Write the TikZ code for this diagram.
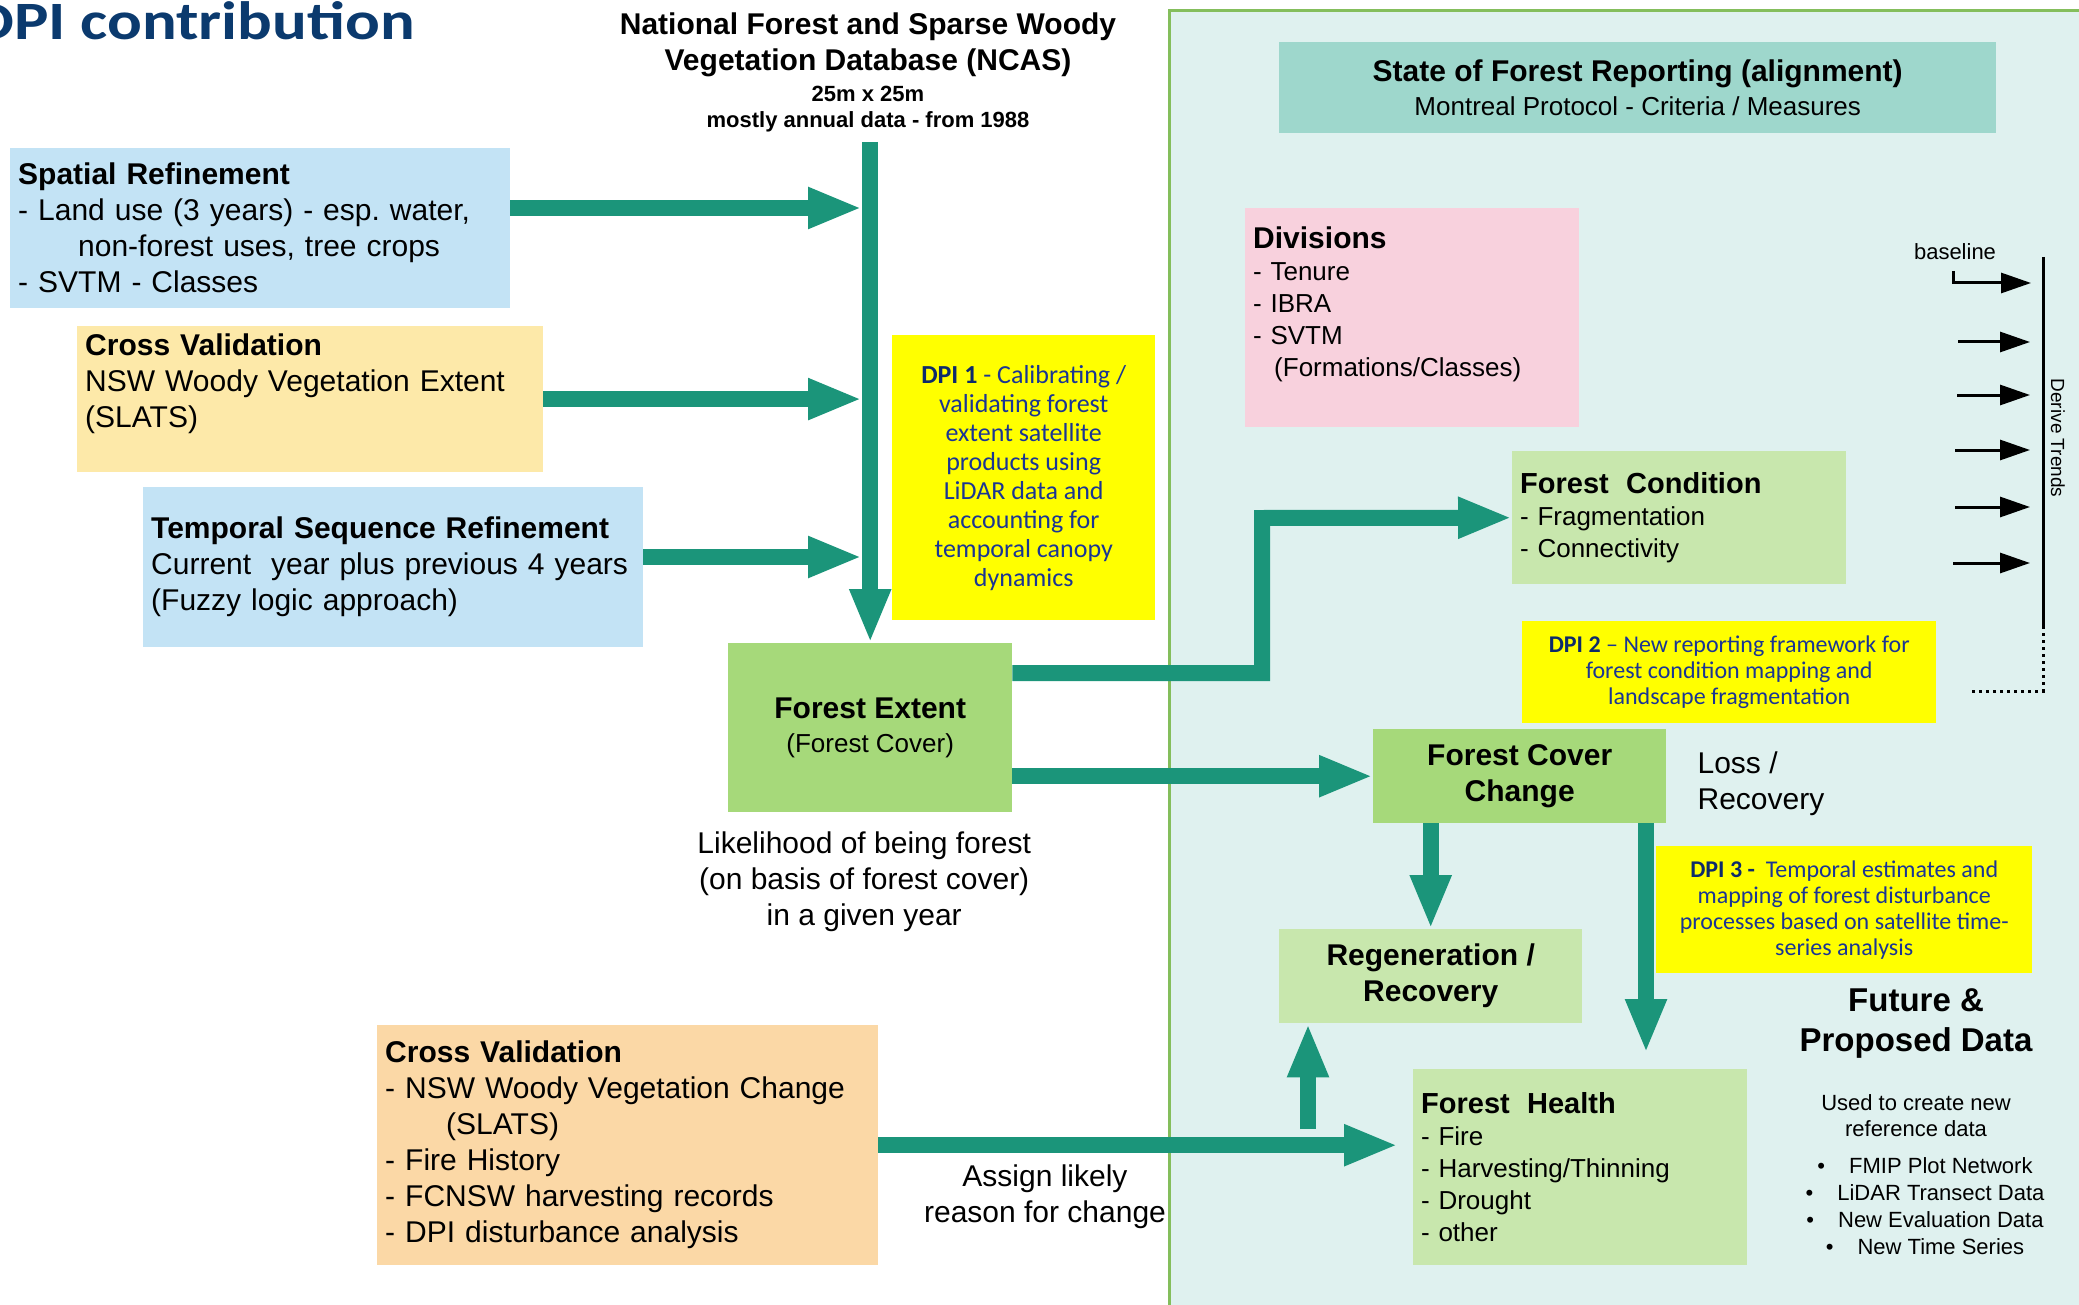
\documentclass[tikz,border=0pt]{standalone}
\usepackage{fontspec}
\setmainfont{Liberation Sans}
\newfontfamily\dpifont{Carlito}
\newfontfamily\titlefont[FakeStretch=1.2]{Carlito}
\usepackage{tikz}
\usetikzlibrary{arrows.meta,positioning}
\frenchspacing
\definecolor{TitleBlue}{HTML}{0B3A6E}
\definecolor{Teal}{HTML}{1B957A}
\definecolor{SkyBlue}{HTML}{C3E3F5}
\definecolor{Butter}{HTML}{FDE9A9}
\definecolor{Peach}{HTML}{FBD8A6}
\definecolor{Grass}{HTML}{A6D97A}
\definecolor{Pale}{HTML}{C8E7AD}
\definecolor{Blush}{HTML}{F8D1DD}
\definecolor{Seafoam}{HTML}{9ED7CC}
\definecolor{Mist}{HTML}{DFF1EF}
\definecolor{Leaf}{HTML}{84BE5C}
\definecolor{DPIyellow}{HTML}{FFFF00}
\definecolor{DPInavy}{HTML}{0D2A6B}
\definecolor{DPIblue}{HTML}{1A3594}
\begin{document}
\begin{tikzpicture}[x=1pt,y=1pt,
    box/.style={anchor=north west,inner sep=8pt,align=left,font=\fontsize{30}{36}\selectfont},
    sbox/.style={box,font=\fontsize{26}{32}\selectfont},
    cbox/.style={anchor=north west,inner sep=4pt,align=center},
    dpi/.style={cbox,fill=DPIyellow,text=DPIblue,font=\dpifont\fontsize{24}{26}\selectfont},
    lbl/.style={inner sep=0pt,align=center,font=\fontsize{30}{36}\selectfont},
    flow/.style={line width=16pt,draw=Teal,-{Triangle[length=54pt,width=38pt]}},
    trend/.style={line width=3pt,-{Triangle[length=30pt,width=20pt]}}]
    \useasboundingbox (0,0) rectangle (2079,-1305);
    \draw[line width=3pt,draw=Leaf,fill=Mist] (1169,-11) rectangle (2110,-1330);
    \node[anchor=base east,inner sep=0pt,text=TitleBlue,font=\titlefont\bfseries\fontsize{54}{60}\selectfont] (title) at (415,-40) {DPI contribution};
    \node[lbl,anchor=north,font=\fontsize{30}{36}\selectfont\bfseries] (ncas) at (868,-13) {National Forest and Sparse Woody\\Vegetation Database (NCAS)};
    \node[lbl,below=8pt of ncas,font=\fontsize{22}{26}\selectfont\bfseries] (ncassub) {25m x 25m\\mostly annual data - from 1988};
    \node[box,fill=SkyBlue,text width=484pt,minimum height=160pt] (spatial) at (10,-148) {\textbf{Spatial Refinement}\\- Land use (3 years) - esp. water,\\\hspace*{60pt}non-forest uses, tree crops\\- SVTM - Classes};
    \node[box,fill=Butter,text width=450pt,minimum height=139pt] (crossval) at (77,-326) {\textbf{Cross Validation}\\NSW Woody Vegetation Extent\\(SLATS)\\\mbox{}};
    \node[box,fill=SkyBlue,text width=484pt,minimum height=160pt] (temporal) at (143,-487) {\textbf{Temporal Sequence Refinement}\\Current\ \ year plus previous 4 years\\(Fuzzy logic approach)};
    \node[box,fill=Peach,text width=485pt,minimum height=240pt] (crossvalb) at (377,-1025) {\textbf{Cross Validation}\\- NSW Woody Vegetation Change\\\hspace*{61pt}(SLATS)\\- Fire History\\- FCNSW harvesting records\\- DPI disturbance analysis};
    \node[cbox,fill=Grass,minimum width=284pt,minimum height=169pt,font=\fontsize{26}{34}\selectfont] (extent) at (728,-643) {{\fontsize{30}{34}\selectfont\bfseries Forest Extent}\\(Forest Cover)};
    \node[lbl,below=19pt of extent,xshift=-6pt] (likely) {Likelihood of being forest\\(on basis of forest cover)\\in a given year};
    \node[dpi,minimum width=263pt,minimum height=285pt,font=\dpifont\fontsize{26}{29}\selectfont] (dpia) at (892,-335) {\textbf{\color{DPInavy}DPI 1} - Calibrating /\\validating forest\\extent satellite\\products using\\LiDAR data and\\accounting for\\temporal canopy\\dynamics};
    \node[lbl,anchor=north] (assign) at (1045,-1165) {Assign likely\\reason for change};
    \node[cbox,fill=Seafoam,minimum width=717pt,minimum height=91pt,font=\fontsize{26}{34}\selectfont] (sofr) at (1279,-42) {{\fontsize{30}{34}\selectfont\bfseries State of Forest Reporting (alignment)}\\Montreal Protocol - Criteria / Measures};
    \node[sbox,fill=Blush,text width=318pt,minimum height=219pt] (divisions) at (1245,-208) {{\fontsize{30}{32}\selectfont\bfseries Divisions}\\- Tenure\\- IBRA\\- SVTM\\\hspace*{21pt}(Formations/Classes)\\\mbox{}};
    \node[sbox,fill=Pale,text width=318pt,minimum height=133pt] (condition) at (1512,-451) {{\fontsize{29}{32}\selectfont\bfseries Forest\ \ Condition}\\- Fragmentation\\- Connectivity};
    \node[dpi,minimum width=414pt,minimum height=102pt] (dpib) at (1522,-621) {\textbf{\color{DPInavy}DPI 2} – New reporting framework for\\forest condition mapping and\\landscape fragmentation};
    \node[cbox,fill=Grass,minimum width=293pt,minimum height=94pt,font=\fontsize{30}{36}\selectfont\bfseries] (coverchange) at (1373,-729) {Forest Cover\\Change};
    \node[lbl,align=left,right=31pt of coverchange,yshift=-8pt] (lossrec) {Loss /\\Recovery};
    \node[dpi,minimum width=376pt,minimum height=127pt] (dpic) at (1656,-846) {\textbf{\color{DPInavy}DPI 3 -}\ \ Temporal estimates and\\mapping of forest disturbance\\processes based on satellite time-\\series analysis};
    \node[cbox,fill=Pale,minimum width=303pt,minimum height=94pt,font=\fontsize{30}{36}\selectfont\bfseries] (regen) at (1279,-929) {Regeneration /\\Recovery};
    \node[sbox,fill=Pale,text width=318pt,minimum height=196pt] (health) at (1413,-1069) {{\fontsize{29}{32}\selectfont\bfseries Forest\ \ Health}\\- Fire\\- Harvesting/Thinning\\- Drought\\- other};
    \node[lbl,anchor=north,font=\fontsize{33}{40}\selectfont\bfseries] (future) at (1916,-988) {Future \&\\Proposed Data};
    \node[lbl,below=36pt of future,font=\fontsize{22}{26}\selectfont] (usedfor) {Used to create new\\reference data};
    \node[lbl,below=21pt of usedfor,xshift=9pt,font=\fontsize{22}{27}\selectfont] (newdata) {\textbullet\hspace{24pt}FMIP Plot Network\\\textbullet\hspace{24pt}LiDAR Transect Data\\\textbullet\hspace{24pt}New Evaluation Data\\\textbullet\hspace{24pt}New Time Series};
    \node[inner sep=0pt,font=\fontsize{22}{26}\selectfont] (baselbl) at (1955,-252) {baseline};
    \node[inner sep=0pt,rotate=-90,font=\fontsize{19}{22}\selectfont] (trends) at (2058,-438) {Derive Trends};
    \coordinate (spinetop) at (869,-142);
    \coordinate (inspatial) at (862,-208);
    \coordinate (intemporal) at (862,-557);
    \coordinate (bend) at (1262,-518);
    \coordinate (tohealth) at (1646,-823);
    \coordinate (lift) at (1308,-1129);
    \draw[flow] (spatial.east |- inspatial) -- (inspatial);
    \draw[flow] (crossval.east) -- (crossval.east -| inspatial);
    \draw[flow] (temporal.east |- intemporal) -- (intemporal);
    \draw[flow] (extent.north |- spinetop) -- (extent.north);
    \draw[flow] ([yshift=54.5pt]extent.east) -| (bend) -- (condition.west);
    \draw[flow] (extent.east |- coverchange.west) -- (coverchange.west);
    \draw[flow] (coverchange.south -| regen.north) -- (regen.north);
    \draw[flow,shorten >=16pt] (tohealth) -- (tohealth |- health.north);
    \draw[flow,shorten >=15pt] (crossvalb.east) -- (crossvalb.east -| health.west);
    \draw[flow] (lift) -- (lift |- regen.south);
    \draw[line width=3pt] (2043,-257) -- (2043,-626);
    \draw[line width=3pt,dash pattern=on 3pt off 4pt] (2043,-626) -- (2043,-691) -- (1970,-691);
    \draw[trend] (1953,-271) |- (2031,-283);
    \foreach \y/\x in {342/1958,395/1957,450/1955,507/1955,563/1953}{\draw[trend] (\x,-\y) -- (2030,-\y);}
\end{tikzpicture}
\end{document}
